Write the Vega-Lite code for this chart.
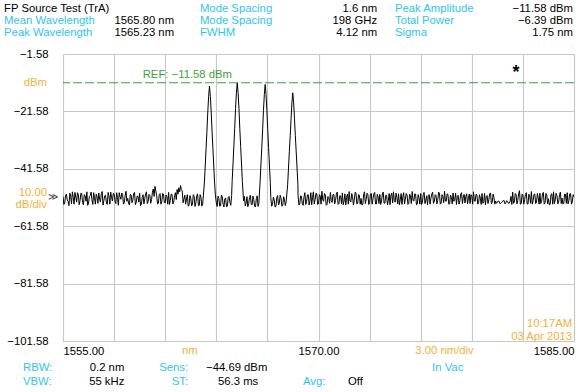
{
  "$schema": "https://vega.github.io/schema/vega-lite/v6.json",
  "width": 511,
  "height": 287,
  "autosize": {"type": "none"},
  "padding": {"left": 63, "top": 54, "right": 7, "bottom": 51},
  "background": "white",
  "config": {
    "view": {"stroke": null},
    "font": "Liberation Sans",
    "text": {"font": "Liberation Sans", "fontSize": 11.3, "baseline": "alphabetic"}
  },
  "layer": [
    {
      "data": {"values": [
        {"w":1555.0,"p":-51.2},{"w":1555.1,"p":-53.6},{"w":1555.2,"p":-50.4},{"w":1555.3,"p":-52.9},{"w":1555.4,"p":-50.1},{"w":1555.5,"p":-53.8},{"w":1555.6,"p":-51.5},{"w":1555.7,"p":-49.8},{"w":1555.8,"p":-53.2},{"w":1555.9,"p":-50.6},
        {"w":1556.0,"p":-52.7},{"w":1556.1,"p":-50.2},{"w":1556.2,"p":-54.1},{"w":1556.3,"p":-51.0},{"w":1556.4,"p":-49.6},{"w":1556.5,"p":-53.5},{"w":1556.6,"p":-50.9},{"w":1556.7,"p":-52.4},{"w":1556.8,"p":-49.9},{"w":1556.9,"p":-53.9},
        {"w":1557.0,"p":-51.4},{"w":1557.1,"p":-50.0},{"w":1557.2,"p":-53.1},{"w":1557.3,"p":-49.5},{"w":1557.4,"p":-52.6},{"w":1557.5,"p":-50.8},{"w":1557.6,"p":-54.0},{"w":1557.7,"p":-51.1},{"w":1557.8,"p":-49.7},{"w":1557.9,"p":-52.8},
        {"w":1558.0,"p":-50.3},{"w":1558.1,"p":-53.7},{"w":1558.2,"p":-51.6},{"w":1558.3,"p":-49.9},{"w":1558.4,"p":-52.2},{"w":1558.5,"p":-50.5},{"w":1558.6,"p":-53.4},{"w":1558.7,"p":-49.4},{"w":1558.8,"p":-51.9},{"w":1558.9,"p":-54.2},
        {"w":1559.0,"p":-50.7},{"w":1559.1,"p":-52.5},{"w":1559.2,"p":-49.8},{"w":1559.3,"p":-53.3},{"w":1559.4,"p":-51.2},{"w":1559.5,"p":-50.1},{"w":1559.6,"p":-53.9},{"w":1559.7,"p":-50.6},{"w":1559.8,"p":-52.0},{"w":1559.9,"p":-49.6},
        {"w":1560.0,"p":-53.0},{"w":1560.1,"p":-50.9},{"w":1560.2,"p":-52.3},{"w":1560.3,"p":-48.6},{"w":1560.4,"p":-47.7},{"w":1560.5,"p":-51.0},{"w":1560.6,"p":-53.6},{"w":1560.7,"p":-50.2},{"w":1560.8,"p":-52.9},{"w":1560.9,"p":-50.4},
        {"w":1561.0,"p":-53.5},{"w":1561.1,"p":-51.3},{"w":1561.2,"p":-49.8},{"w":1561.3,"p":-52.6},{"w":1561.4,"p":-50.5},{"w":1561.5,"p":-53.2},{"w":1561.6,"p":-49.9},{"w":1561.7,"p":-48.8},{"w":1561.8,"p":-48.2},{"w":1561.9,"p":-47.4},
        {"w":1562.0,"p":-49.3},{"w":1562.1,"p":-52.1},{"w":1562.2,"p":-53.9},{"w":1562.3,"p":-50.6},{"w":1562.4,"p":-54.2},{"w":1562.5,"p":-51.7},{"w":1562.6,"p":-54.0},{"w":1562.7,"p":-51.2},{"w":1562.8,"p":-53.4},{"w":1562.9,"p":-50.3},
        {"w":1563.0,"p":-54.3},{"w":1563.1,"p":-51.5},{"w":1563.2,"p":-53.8},
        {"w":1563.3,"p":-46.5},{"w":1563.4,"p":-34.5},{"w":1563.45,"p":-28.5},{"w":1563.5,"p":-21.8},{"w":1563.55,"p":-16.3},{"w":1563.6,"p":-12.8},{"w":1563.65,"p":-16.3},{"w":1563.7,"p":-21.8},{"w":1563.75,"p":-28.5},{"w":1563.8,"p":-34.5},{"w":1563.9,"p":-46.5},
        {"w":1564.0,"p":-53.4},{"w":1564.1,"p":-51.1},{"w":1564.2,"p":-54.6},{"w":1564.3,"p":-50.7},{"w":1564.4,"p":-53.9},{"w":1564.5,"p":-52.0},{"w":1564.6,"p":-54.8},{"w":1564.7,"p":-51.5},{"w":1564.8,"p":-53.3},{"w":1564.9,"p":-50.9},
        {"w":1564.93,"p":-46.0},{"w":1565.03,"p":-33.8},{"w":1565.08,"p":-27.6},{"w":1565.13,"p":-20.6},{"w":1565.18,"p":-15.1},{"w":1565.23,"p":-11.58},{"w":1565.28,"p":-15.1},{"w":1565.33,"p":-20.6},{"w":1565.38,"p":-27.6},{"w":1565.43,"p":-33.8},{"w":1565.53,"p":-46.0},
        {"w":1565.6,"p":-52.8},{"w":1565.7,"p":-54.5},{"w":1565.8,"p":-51.3},{"w":1565.9,"p":-53.7},{"w":1566.0,"p":-50.8},{"w":1566.1,"p":-54.2},{"w":1566.2,"p":-52.3},{"w":1566.3,"p":-54.9},{"w":1566.4,"p":-51.0},{"w":1566.5,"p":-53.6},
        {"w":1566.57,"p":-46.3},{"w":1566.67,"p":-34.2},{"w":1566.72,"p":-28.0},{"w":1566.77,"p":-21.2},{"w":1566.82,"p":-15.7},{"w":1566.87,"p":-12.2},{"w":1566.92,"p":-15.7},{"w":1566.97,"p":-21.2},{"w":1567.02,"p":-28.0},{"w":1567.07,"p":-34.2},{"w":1567.17,"p":-46.3},
        {"w":1567.2,"p":-51.6},{"w":1567.3,"p":-54.0},{"w":1567.4,"p":-52.4},{"w":1567.5,"p":-54.7},{"w":1567.6,"p":-50.9},{"w":1567.7,"p":-53.5},{"w":1567.8,"p":-51.8},{"w":1567.9,"p":-54.4},{"w":1568.0,"p":-52.2},{"w":1568.1,"p":-53.1},
        {"w":1568.19,"p":-47.0},{"w":1568.29,"p":-35.5},{"w":1568.34,"p":-30.0},{"w":1568.39,"p":-24.1},{"w":1568.44,"p":-18.6},{"w":1568.49,"p":-15.1},{"w":1568.54,"p":-18.6},{"w":1568.59,"p":-24.1},{"w":1568.64,"p":-30.0},{"w":1568.69,"p":-35.5},{"w":1568.79,"p":-47.0},
        {"w":1568.8,"p":-50.8},{"w":1568.9,"p":-53.9},
        {"w":1569.0,"p":-51.2},{"w":1569.1,"p":-54.3},{"w":1569.2,"p":-49.9},{"w":1569.3,"p":-53.0},{"w":1569.4,"p":-50.6},{"w":1569.5,"p":-52.7},{"w":1569.6,"p":-54.1},{"w":1569.7,"p":-49.6},{"w":1569.8,"p":-52.4},{"w":1569.9,"p":-50.3},
        {"w":1570.0,"p":-53.8},{"w":1570.1,"p":-51.0},{"w":1570.2,"p":-49.4},{"w":1570.3,"p":-52.9},{"w":1570.4,"p":-50.7},{"w":1570.5,"p":-54.0},{"w":1570.6,"p":-51.5},{"w":1570.7,"p":-49.8},{"w":1570.8,"p":-53.3},{"w":1570.9,"p":-50.5},
        {"w":1571.0,"p":-52.6},{"w":1571.1,"p":-49.7},{"w":1571.2,"p":-53.7},{"w":1571.3,"p":-51.1},{"w":1571.4,"p":-50.0},{"w":1571.5,"p":-52.8},{"w":1571.6,"p":-54.2},{"w":1571.7,"p":-50.4},{"w":1571.8,"p":-49.5},{"w":1571.9,"p":-53.1},
        {"w":1572.0,"p":-51.3},{"w":1572.1,"p":-52.5},{"w":1572.2,"p":-49.9},{"w":1572.3,"p":-53.6},{"w":1572.4,"p":-50.8},{"w":1572.5,"p":-51.9},{"w":1572.6,"p":-54.0},{"w":1572.7,"p":-49.6},{"w":1572.8,"p":-52.3},{"w":1572.9,"p":-50.6},
        {"w":1573.0,"p":-53.4},{"w":1573.1,"p":-50.2},{"w":1573.2,"p":-52.0},{"w":1573.3,"p":-49.8},{"w":1573.4,"p":-53.8},{"w":1573.5,"p":-51.4},{"w":1573.6,"p":-50.5},{"w":1573.7,"p":-52.9},{"w":1573.8,"p":-49.7},{"w":1573.9,"p":-53.5},
        {"w":1574.0,"p":-50.9},{"w":1574.1,"p":-52.7},{"w":1574.2,"p":-54.1},{"w":1574.3,"p":-50.1},{"w":1574.4,"p":-49.6},{"w":1574.5,"p":-53.2},{"w":1574.6,"p":-51.6},{"w":1574.7,"p":-50.3},{"w":1574.8,"p":-52.4},{"w":1574.9,"p":-54.0},
        {"w":1575.0,"p":-49.9},{"w":1575.1,"p":-52.1},{"w":1575.2,"p":-50.7},{"w":1575.3,"p":-53.7},{"w":1575.4,"p":-51.0},{"w":1575.5,"p":-49.5},{"w":1575.6,"p":-52.8},{"w":1575.7,"p":-50.4},{"w":1575.8,"p":-53.9},{"w":1575.9,"p":-51.7},
        {"w":1576.0,"p":-50.2},{"w":1576.1,"p":-53.3},{"w":1576.2,"p":-49.8},{"w":1576.3,"p":-52.5},{"w":1576.4,"p":-54.2},{"w":1576.5,"p":-50.6},{"w":1576.6,"p":-51.8},{"w":1576.7,"p":-49.7},{"w":1576.8,"p":-53.0},{"w":1576.9,"p":-50.9},
        {"w":1577.0,"p":-52.6},{"w":1577.1,"p":-50.1},{"w":1577.2,"p":-53.6},{"w":1577.3,"p":-51.2},{"w":1577.4,"p":-49.4},{"w":1577.5,"p":-52.9},{"w":1577.6,"p":-50.5},{"w":1577.7,"p":-53.8},{"w":1577.8,"p":-51.5},{"w":1577.9,"p":-50.0},
        {"w":1578.0,"p":-52.2},{"w":1578.1,"p":-54.0},{"w":1578.2,"p":-50.8},{"w":1578.3,"p":-52.7},{"w":1578.4,"p":-49.9},{"w":1578.5,"p":-51.4},{"w":1578.6,"p":-53.5},{"w":1578.7,"p":-50.3},{"w":1578.8,"p":-52.0},{"w":1578.9,"p":-53.7},
        {"w":1579.0,"p":-51.1},{"w":1579.1,"p":-49.6},{"w":1579.2,"p":-52.9},{"w":1579.3,"p":-50.7},{"w":1579.4,"p":-53.4},{"w":1579.5,"p":-51.8},{"w":1579.6,"p":-50.2},{"w":1579.7,"p":-53.0},{"w":1579.8,"p":-54.1},{"w":1579.9,"p":-50.9},
        {"w":1580.0,"p":-52.4},{"w":1580.1,"p":-50.0},{"w":1580.2,"p":-53.2},{"w":1580.3,"p":-51.6},{"w":1580.4,"p":-52.8},{"w":1580.5,"p":-53.3},{"w":1580.6,"p":-52.9},{"w":1580.7,"p":-53.6},{"w":1580.8,"p":-53.1},{"w":1580.9,"p":-52.7},
        {"w":1581.0,"p":-53.4},{"w":1581.1,"p":-53.0},{"w":1581.2,"p":-53.5},{"w":1581.3,"p":-51.2},{"w":1581.4,"p":-49.7},{"w":1581.5,"p":-53.1},{"w":1581.6,"p":-50.5},{"w":1581.7,"p":-52.6},{"w":1581.8,"p":-49.2},{"w":1581.9,"p":-53.7},
        {"w":1582.0,"p":-50.8},{"w":1582.1,"p":-52.3},{"w":1582.2,"p":-49.9},{"w":1582.3,"p":-53.9},{"w":1582.4,"p":-51.0},{"w":1582.5,"p":-49.5},{"w":1582.6,"p":-52.7},{"w":1582.7,"p":-50.4},{"w":1582.8,"p":-53.3},{"w":1582.9,"p":-51.6},
        {"w":1583.0,"p":-50.1},{"w":1583.1,"p":-52.9},{"w":1583.2,"p":-49.8},{"w":1583.3,"p":-53.5},{"w":1583.4,"p":-50.7},{"w":1583.5,"p":-52.0},{"w":1583.6,"p":-54.0},{"w":1583.7,"p":-50.3},{"w":1583.8,"p":-49.6},{"w":1583.9,"p":-52.4},
        {"w":1584.0,"p":-50.9},{"w":1584.1,"p":-53.2},{"w":1584.2,"p":-49.7},{"w":1584.3,"p":-51.8},{"w":1584.4,"p":-53.6},{"w":1584.5,"p":-50.5},{"w":1584.6,"p":-49.9},{"w":1584.7,"p":-52.6},{"w":1584.8,"p":-50.2},{"w":1584.9,"p":-53.1},
        {"w":1585.0,"p":-51.4},
        {"w":1555.05,"p":-54.0},{"w":1555.15,"p":-50.9},{"w":1555.25,"p":-52.5},{"w":1555.35,"p":-54.4},{"w":1555.45,"p":-51.2},{"w":1555.55,"p":-49.6},{"w":1555.65,"p":-53.9},{"w":1555.75,"p":-51.4},{"w":1555.85,"p":-49.9},{"w":1555.95,"p":-54.1},
        {"w":1556.05,"p":-50.1},{"w":1556.15,"p":-53.4},{"w":1556.25,"p":-50.6},{"w":1556.35,"p":-52.9},{"w":1556.45,"p":-54.3},{"w":1556.55,"p":-51.2},{"w":1556.65,"p":-49.7},{"w":1556.75,"p":-54.0},{"w":1556.85,"p":-51.7},{"w":1556.95,"p":-50.4},
        {"w":1557.05,"p":-53.6},{"w":1557.15,"p":-52.2},{"w":1557.25,"p":-50.3},{"w":1557.35,"p":-54.2},{"w":1557.45,"p":-51.0},{"w":1557.55,"p":-53.5},{"w":1557.65,"p":-49.8},{"w":1557.75,"p":-53.9},{"w":1557.85,"p":-51.5},{"w":1557.95,"p":-50.2},
        {"w":1558.05,"p":-52.8},{"w":1558.15,"p":-49.9},{"w":1558.25,"p":-54.3},{"w":1558.35,"p":-51.3},{"w":1558.45,"p":-50.0},{"w":1558.55,"p":-53.9},{"w":1558.65,"p":-50.8},{"w":1558.75,"p":-52.9},{"w":1558.85,"p":-53.6},{"w":1558.95,"p":-50.5},
        {"w":1559.05,"p":-53.4},{"w":1559.15,"p":-50.2},{"w":1559.25,"p":-54.1},{"w":1559.35,"p":-51.1},{"w":1559.45,"p":-53.2},{"w":1559.55,"p":-54.4},{"w":1559.65,"p":-51.6},{"w":1559.75,"p":-53.8},{"w":1559.85,"p":-50.3},{"w":1559.95,"p":-53.7},
        {"w":1560.05,"p":-50.5},{"w":1560.15,"p":-53.6},{"w":1560.25,"p":-49.7},{"w":1560.35,"p":-51.2},{"w":1560.45,"p":-49.3},{"w":1560.55,"p":-53.8},{"w":1560.65,"p":-50.6},{"w":1560.75,"p":-53.9},{"w":1560.85,"p":-50.2},{"w":1560.95,"p":-53.3},
        {"w":1561.05,"p":-50.7},{"w":1561.15,"p":-53.9},{"w":1561.25,"p":-54.0},{"w":1561.35,"p":-50.4},{"w":1561.45,"p":-53.8},{"w":1561.55,"p":-50.9},{"w":1561.65,"p":-52.3},{"w":1561.75,"p":-50.4},{"w":1561.85,"p":-49.6},{"w":1561.95,"p":-48.9},
        {"w":1562.05,"p":-53.4},{"w":1562.15,"p":-50.8},{"w":1562.25,"p":-52.1},{"w":1562.35,"p":-54.6},{"w":1562.45,"p":-50.9},{"w":1562.55,"p":-54.5},{"w":1562.65,"p":-50.6},{"w":1562.75,"p":-54.7},{"w":1562.85,"p":-51.1},{"w":1562.95,"p":-54.4},
        {"w":1563.05,"p":-50.6},{"w":1563.15,"p":-54.6},
        {"w":1563.95,"p":-51.0},{"w":1564.05,"p":-54.7},{"w":1564.15,"p":-51.9},{"w":1564.25,"p":-54.5},{"w":1564.35,"p":-51.4},{"w":1564.45,"p":-54.9},{"w":1564.55,"p":-51.8},{"w":1564.65,"p":-54.6},{"w":1564.75,"p":-51.2},{"w":1564.85,"p":-54.3},
        {"w":1565.65,"p":-51.2},{"w":1565.75,"p":-53.5},{"w":1565.85,"p":-54.8},{"w":1565.95,"p":-51.6},{"w":1566.05,"p":-53.9},{"w":1566.15,"p":-51.1},{"w":1566.25,"p":-54.6},{"w":1566.35,"p":-52.0},{"w":1566.45,"p":-54.7},
        {"w":1567.25,"p":-54.6},{"w":1567.35,"p":-51.5},{"w":1567.45,"p":-54.9},{"w":1567.55,"p":-51.7},{"w":1567.65,"p":-54.2},{"w":1567.75,"p":-50.8},{"w":1567.85,"p":-54.6},{"w":1567.95,"p":-51.3},{"w":1568.05,"p":-54.4},
        {"w":1568.85,"p":-54.2},{"w":1568.95,"p":-51.0},
        {"w":1569.05,"p":-53.9},{"w":1569.15,"p":-51.4},{"w":1569.25,"p":-54.0},{"w":1569.35,"p":-50.7},{"w":1569.45,"p":-54.2},{"w":1569.55,"p":-49.9},{"w":1569.65,"p":-51.6},{"w":1569.75,"p":-53.8},{"w":1569.85,"p":-50.1},{"w":1569.95,"p":-54.0},
        {"w":1570.05,"p":-50.6},{"w":1570.15,"p":-53.9},{"w":1570.25,"p":-52.4},{"w":1570.35,"p":-50.2},{"w":1570.45,"p":-54.3},{"w":1570.55,"p":-51.2},{"w":1570.65,"p":-53.6},{"w":1570.75,"p":-52.7},{"w":1570.85,"p":-50.6},{"w":1570.95,"p":-53.8},
        {"w":1571.05,"p":-50.4},{"w":1571.15,"p":-54.0},{"w":1571.25,"p":-50.9},{"w":1571.35,"p":-53.7},{"w":1571.45,"p":-54.1},{"w":1571.55,"p":-50.3},{"w":1571.65,"p":-51.5},{"w":1571.75,"p":-53.9},{"w":1571.85,"p":-52.8},{"w":1571.95,"p":-50.2},
        {"w":1572.05,"p":-54.2},{"w":1572.15,"p":-49.8},{"w":1572.25,"p":-53.8},{"w":1572.35,"p":-50.6},{"w":1572.45,"p":-53.9},{"w":1572.55,"p":-54.2},{"w":1572.65,"p":-50.6},{"w":1572.75,"p":-53.7},{"w":1572.85,"p":-50.1},{"w":1572.95,"p":-54.0},
        {"w":1573.05,"p":-50.4},{"w":1573.15,"p":-53.9},{"w":1573.25,"p":-50.3},{"w":1573.35,"p":-53.8},{"w":1573.45,"p":-50.5},{"w":1573.55,"p":-53.7},{"w":1573.65,"p":-54.0},{"w":1573.75,"p":-50.3},{"w":1573.85,"p":-53.6},{"w":1573.95,"p":-50.8},
        {"w":1574.05,"p":-54.1},{"w":1574.15,"p":-50.2},{"w":1574.25,"p":-50.8},{"w":1574.35,"p":-53.5},{"w":1574.45,"p":-52.6},{"w":1574.55,"p":-50.1},{"w":1574.65,"p":-53.8},{"w":1574.75,"p":-54.1},{"w":1574.85,"p":-50.2},{"w":1574.95,"p":-51.3},
        {"w":1575.05,"p":-53.8},{"w":1575.15,"p":-50.2},{"w":1575.25,"p":-54.0},{"w":1575.35,"p":-50.4},{"w":1575.45,"p":-53.7},{"w":1575.55,"p":-52.6},{"w":1575.65,"p":-50.3},{"w":1575.75,"p":-54.1},{"w":1575.85,"p":-50.6},{"w":1575.95,"p":-53.9},
        {"w":1576.05,"p":-54.0},{"w":1576.15,"p":-50.5},{"w":1576.25,"p":-53.7},{"w":1576.35,"p":-51.0},{"w":1576.45,"p":-50.8},{"w":1576.55,"p":-53.9},{"w":1576.65,"p":-50.4},{"w":1576.75,"p":-53.6},{"w":1576.85,"p":-50.6},{"w":1576.95,"p":-53.8},
        {"w":1577.05,"p":-49.7},{"w":1577.15,"p":-53.9},{"w":1577.25,"p":-50.6},{"w":1577.35,"p":-53.4},{"w":1577.45,"p":-52.8},{"w":1577.55,"p":-50.3},{"w":1577.65,"p":-53.9},{"w":1577.75,"p":-50.7},{"w":1577.85,"p":-53.8},{"w":1577.95,"p":-52.9},
        {"w":1578.05,"p":-50.1},{"w":1578.15,"p":-51.2},{"w":1578.25,"p":-53.9},{"w":1578.35,"p":-50.4},{"w":1578.45,"p":-53.7},{"w":1578.55,"p":-50.5},{"w":1578.65,"p":-51.2},{"w":1578.75,"p":-53.8},{"w":1578.85,"p":-50.4},{"w":1578.95,"p":-50.6},
        {"w":1579.05,"p":-53.9},{"w":1579.15,"p":-52.8},{"w":1579.25,"p":-50.4},{"w":1579.35,"p":-53.9},{"w":1579.45,"p":-50.6},{"w":1579.55,"p":-54.0},{"w":1579.65,"p":-53.6},{"w":1579.75,"p":-50.2},{"w":1579.85,"p":-51.3},{"w":1579.95,"p":-53.7},
        {"w":1580.05,"p":-50.3},{"w":1580.15,"p":-53.8},{"w":1580.25,"p":-50.4},{"w":1580.35,"p":-53.9},{"w":1580.45,"p":-53.6},{"w":1580.55,"p":-52.8},{"w":1580.65,"p":-53.7},{"w":1580.75,"p":-53.3},{"w":1580.85,"p":-52.6},{"w":1580.95,"p":-53.8},
        {"w":1581.05,"p":-52.7},{"w":1581.15,"p":-53.6},{"w":1581.25,"p":-52.9},{"w":1581.35,"p":-54.0},{"w":1581.45,"p":-53.6},{"w":1581.55,"p":-50.2},{"w":1581.65,"p":-53.8},{"w":1581.75,"p":-50.3},{"w":1581.85,"p":-53.9},{"w":1581.95,"p":-50.4},
        {"w":1582.05,"p":-53.9},{"w":1582.15,"p":-50.5},{"w":1582.25,"p":-53.8},{"w":1582.35,"p":-50.4},{"w":1582.45,"p":-53.6},{"w":1582.55,"p":-53.9},{"w":1582.65,"p":-50.5},{"w":1582.75,"p":-53.7},{"w":1582.85,"p":-50.2},{"w":1582.95,"p":-53.9},
        {"w":1583.05,"p":-53.7},{"w":1583.15,"p":-50.4},{"w":1583.25,"p":-53.9},{"w":1583.35,"p":-50.2},{"w":1583.45,"p":-53.8},{"w":1583.55,"p":-54.1},{"w":1583.65,"p":-50.5},{"w":1583.75,"p":-53.9},{"w":1583.85,"p":-53.7},{"w":1583.95,"p":-50.1},
        {"w":1584.05,"p":-53.8},{"w":1584.15,"p":-50.6},{"w":1584.25,"p":-53.7},{"w":1584.35,"p":-53.9},{"w":1584.45,"p":-50.4},{"w":1584.55,"p":-53.6},{"w":1584.65,"p":-53.8},{"w":1584.75,"p":-50.3},{"w":1584.85,"p":-53.9},{"w":1584.95,"p":-50.6}
      ]},
      "mark": {"type": "line", "color": "black", "strokeWidth": 1, "clip": true},
      "encoding": {
        "x": {"field": "w", "type": "quantitative",
          "scale": {"domain": [1555, 1585], "nice": false, "zero": false},
          "axis": {"title": null, "values": [1555,1558,1561,1564,1567,1570,1573,1576,1579,1582,1585],
            "format": ".2f",
            "labelExpr": "(datum.value == 1555 || datum.value == 1570 || datum.value == 1585) ? datum.label : ''",
            "labelFlush": true, "labelOverlap": false,
            "grid": true, "gridColor": "#c8c8c8", "gridWidth": 1.2, "gridOpacity": 1,
            "domain": false, "ticks": false, "labelPadding": 4, "labelBaseline": "top",
            "labelFont": "Liberation Sans", "labelFontSize": 11.3, "labelColor": "black"}},
        "y": {"field": "p", "type": "quantitative",
          "scale": {"domain": [-101.58, -1.58], "nice": false, "zero": false},
          "axis": {"title": null, "values": [-1.58,-11.58,-21.58,-31.58,-41.58,-51.58,-61.58,-71.58,-81.58,-91.58,-101.58],
            "format": ".2f",
            "labelExpr": "indexof([-1.58,-21.58,-41.58,-61.58,-81.58,-101.58], datum.value) >= 0 ? datum.label : ''",
            "labelOverlap": false,
            "grid": true, "gridColor": "#c8c8c8", "gridWidth": 1.2, "gridOpacity": 1,
            "domain": false, "ticks": false, "labelPadding": 15,
            "labelFont": "Liberation Sans", "labelFontSize": 11.3, "labelColor": "black"}}
      }
    },
    {
      "data": {"values": [{"ref": -11.58}]},
      "mark": {"type": "rule", "color": "#3f9f3f", "strokeDash": [9, 3], "strokeWidth": 1.1},
      "encoding": {"y": {"field": "ref", "type": "quantitative"}}
    },
    {
      "data": {"values": [{"t": "REF: −11.58 dBm"}]},
      "mark": {"type": "text", "align": "left", "color": "#3f9f3f"},
      "encoding": {"x": {"datum": 1559.68, "type": "quantitative"}, "y": {"datum": -9.94, "type": "quantitative"}, "text": {"field": "t"}}
    },
    {
      "data": {"values": [{"t": "*"}]},
      "mark": {"type": "text", "align": "center", "color": "black", "fontSize": 18, "fontWeight": "bold"},
      "encoding": {"x": {"datum": 1581.6, "type": "quantitative"}, "y": {"datum": -9.94, "type": "quantitative"}, "text": {"field": "t"}}
    },
    {
      "data": {"values": [{"t": "FP Source Test (TrA)"}]},
      "mark": {"type": "text", "align": "left", "color": "black"},
      "encoding": {"x": {"datum": 1551.54, "type": "quantitative"}, "y": {"datum": 13.05, "type": "quantitative"}, "text": {"field": "t"}}
    },
    {
      "data": {"values": [{"t": ["Mean Wavelength", "Peak Wavelength"]}]},
      "mark": {"type": "text", "align": "left", "color": "#2cc6f4", "lineHeight": 12},
      "encoding": {"x": {"datum": 1551.54, "type": "quantitative"}, "y": {"datum": 8.87, "type": "quantitative"}, "text": {"field": "t"}}
    },
    {
      "data": {"values": [{"t": ["1565.80 nm", "1565.23 nm"]}]},
      "mark": {"type": "text", "align": "right", "color": "black", "lineHeight": 12},
      "encoding": {"x": {"datum": 1561.52, "type": "quantitative"}, "y": {"datum": 8.87, "type": "quantitative"}, "text": {"field": "t"}}
    },
    {
      "data": {"values": [{"t": ["Mode Spacing", "Mode Spacing", "FWHM"]}]},
      "mark": {"type": "text", "align": "left", "color": "#2cc6f4", "lineHeight": 12},
      "encoding": {"x": {"datum": 1563.04, "type": "quantitative"}, "y": {"datum": 13.05, "type": "quantitative"}, "text": {"field": "t"}}
    },
    {
      "data": {"values": [{"t": ["1.6 nm", "198 GHz", "4.12 nm"]}]},
      "mark": {"type": "text", "align": "right", "color": "black", "lineHeight": 12},
      "encoding": {"x": {"datum": 1573.44, "type": "quantitative"}, "y": {"datum": 13.05, "type": "quantitative"}, "text": {"field": "t"}}
    },
    {
      "data": {"values": [{"t": ["Peak Amplitude", "Total Power", "Sigma"]}]},
      "mark": {"type": "text", "align": "left", "color": "#2cc6f4", "lineHeight": 12},
      "encoding": {"x": {"datum": 1574.49, "type": "quantitative"}, "y": {"datum": 13.05, "type": "quantitative"}, "text": {"field": "t"}}
    },
    {
      "data": {"values": [{"t": ["−11.58 dBm", "−6.39 dBm", "1.75 nm"]}]},
      "mark": {"type": "text", "align": "right", "color": "black", "lineHeight": 12},
      "encoding": {"x": {"datum": 1584.94, "type": "quantitative"}, "y": {"datum": 13.05, "type": "quantitative"}, "text": {"field": "t"}}
    },
    {
      "data": {"values": [{"t": "dBm"}]},
      "mark": {"type": "text", "align": "right", "baseline": "middle", "color": "#f2b233"},
      "encoding": {"x": {"datum": 1554.06, "type": "quantitative"}, "y": {"datum": -11.58, "type": "quantitative"}, "text": {"field": "t"}}
    },
    {
      "data": {"values": [{"t": ["10.00", "dB/div"]}]},
      "mark": {"type": "text", "align": "right", "color": "#f2b233", "lineHeight": 12.6},
      "encoding": {"x": {"datum": 1554.06, "type": "quantitative"}, "y": {"datum": -50.95, "type": "quantitative"}, "text": {"field": "t"}}
    },
    {
      "data": {"values": [{"t": "≫"}]},
      "mark": {"type": "text", "align": "left", "baseline": "middle", "color": "#333333", "fontSize": 10, "font": "DejaVu Sans"},
      "encoding": {"x": {"datum": 1554.12, "type": "quantitative"}, "y": {"datum": -51.3, "type": "quantitative"}, "text": {"field": "t"}}
    },
    {
      "data": {"values": [{"t": ["10:17AM", "03 Apr 2013"]}]},
      "mark": {"type": "text", "align": "right", "color": "#f2b233", "lineHeight": 13},
      "encoding": {"x": {"datum": 1584.89, "type": "quantitative"}, "y": {"datum": -96.7, "type": "quantitative"}, "text": {"field": "t"}}
    },
    {
      "data": {"values": [{"t": "nm"}]},
      "mark": {"type": "text", "align": "left", "color": "#f2b233"},
      "encoding": {"x": {"datum": 1561.99, "type": "quantitative"}, "y": {"datum": -106.11, "type": "quantitative"}, "text": {"field": "t"}}
    },
    {
      "data": {"values": [{"t": "3.00 nm/div"}]},
      "mark": {"type": "text", "align": "center", "color": "#f2b233"},
      "encoding": {"x": {"datum": 1577.4, "type": "quantitative"}, "y": {"datum": -106.11, "type": "quantitative"}, "text": {"field": "t"}}
    },
    {
      "data": {"values": [{"t": ["RBW:", "VBW:"]}]},
      "mark": {"type": "text", "align": "left", "color": "#2cc6f4", "lineHeight": 14},
      "encoding": {"x": {"datum": 1552.65, "type": "quantitative"}, "y": {"datum": -112.03, "type": "quantitative"}, "text": {"field": "t"}}
    },
    {
      "data": {"values": [{"t": ["0.2 nm", "55 kHz"]}]},
      "mark": {"type": "text", "align": "right", "color": "black", "lineHeight": 14},
      "encoding": {"x": {"datum": 1558.6, "type": "quantitative"}, "y": {"datum": -112.03, "type": "quantitative"}, "text": {"field": "t"}}
    },
    {
      "data": {"values": [{"t": ["Sens:", "ST:"]}]},
      "mark": {"type": "text", "align": "right", "color": "#2cc6f4", "lineHeight": 14},
      "encoding": {"x": {"datum": 1562.34, "type": "quantitative"}, "y": {"datum": -112.03, "type": "quantitative"}, "text": {"field": "t"}}
    },
    {
      "data": {"values": [{"t": "−44.69 dBm"}]},
      "mark": {"type": "text", "align": "left", "color": "black"},
      "encoding": {"x": {"datum": 1563.4, "type": "quantitative"}, "y": {"datum": -112.03, "type": "quantitative"}, "text": {"field": "t"}}
    },
    {
      "data": {"values": [{"t": "56.3 ms"}]},
      "mark": {"type": "text", "align": "left", "color": "black"},
      "encoding": {"x": {"datum": 1564.1, "type": "quantitative"}, "y": {"datum": -116.91, "type": "quantitative"}, "text": {"field": "t"}}
    },
    {
      "data": {"values": [{"t": "In Vac"}]},
      "mark": {"type": "text", "align": "left", "color": "#2cc6f4"},
      "encoding": {"x": {"datum": 1576.67, "type": "quantitative"}, "y": {"datum": -112.03, "type": "quantitative"}, "text": {"field": "t"}}
    },
    {
      "data": {"values": [{"t": "Avg:"}]},
      "mark": {"type": "text", "align": "left", "color": "#2cc6f4"},
      "encoding": {"x": {"datum": 1569.09, "type": "quantitative"}, "y": {"datum": -116.91, "type": "quantitative"}, "text": {"field": "t"}}
    },
    {
      "data": {"values": [{"t": "Off"}]},
      "mark": {"type": "text", "align": "left", "color": "black"},
      "encoding": {"x": {"datum": 1571.73, "type": "quantitative"}, "y": {"datum": -116.91, "type": "quantitative"}, "text": {"field": "t"}}
    }
  ]
}
